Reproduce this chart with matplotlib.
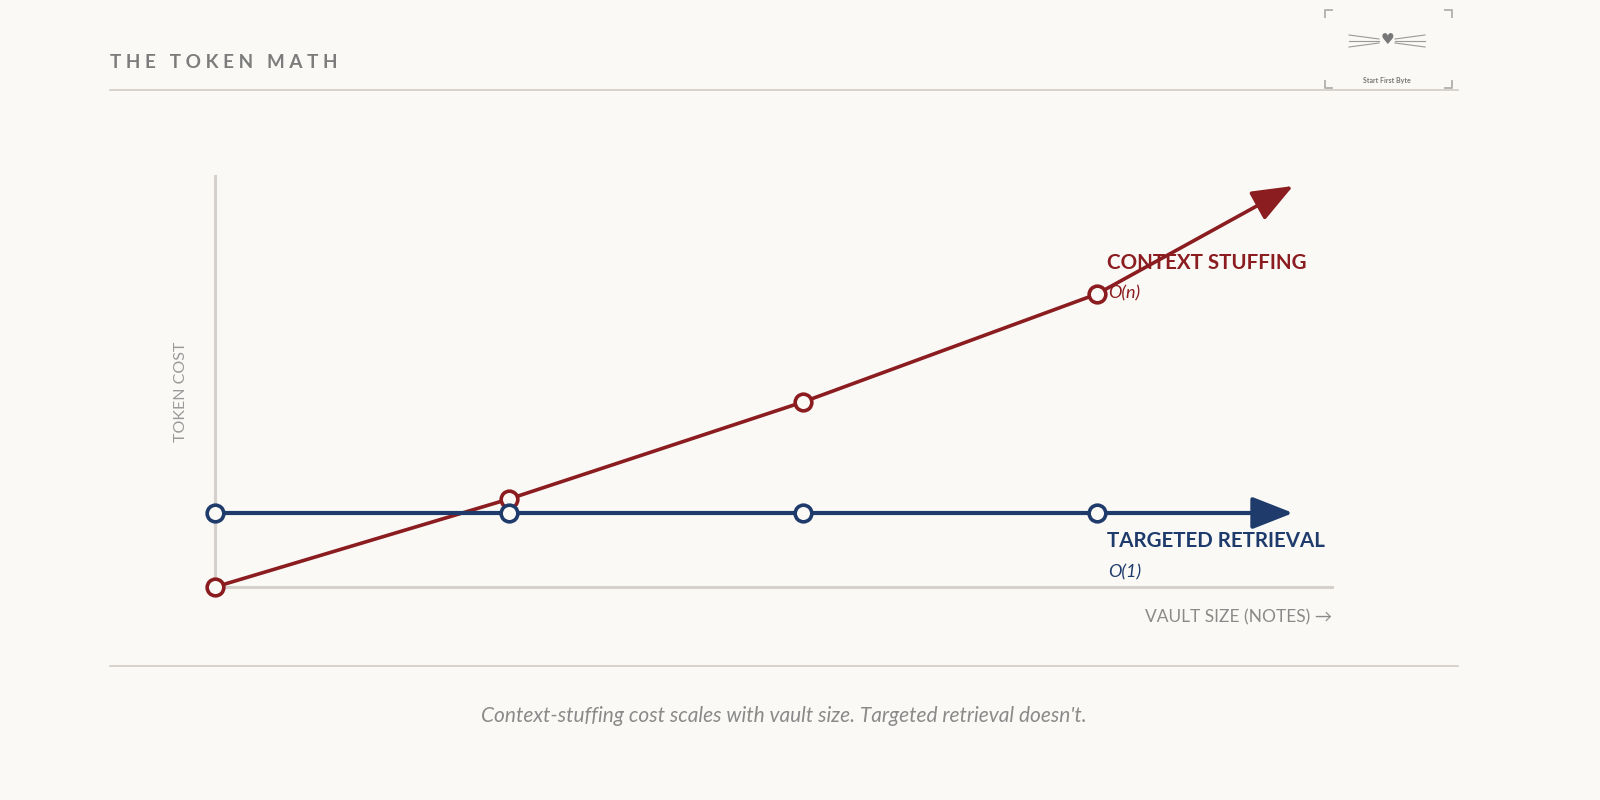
import matplotlib.pyplot as plt
from matplotlib.lines import Line2D

# -----------------------------------------------------------------------------
# Data (vault size in arbitrary units, token cost in arbitrary units)
# -----------------------------------------------------------------------------
vault_size = [0, 1, 2, 3]
stuffing_cost = [0, 8.8, 18.5, 29.3]
retrieval_cost = [7.4, 7.4, 7.4, 7.4]
arrow_x = 3.667
stuffing_arrow_y = 40.1
retrieval_arrow_y = 7.4

TITLE = "THE TOKEN MATH"
CAPTION = "Context-stuffing cost scales with vault size. Targeted retrieval doesn't."

BG = "#FAF9F6"
RED = "#8B1C1F"
BLUE = "#1F3B6B"
AXIS = "#D5D0CB"
GRAY = "#8A8A8A"
RULE = "#D3CCC6"

W, H = 1600, 800
plt.rcParams["font.family"] = ["Lato", "DejaVu Sans"]

fig = plt.figure(figsize=(W / 100, H / 100), dpi=100, facecolor=BG)


def fx(px):
    return px / W


def fy(py):
    return 1 - py / H


# axes: x=0 at px 215, one unit = 294 px ; y=0 at px 587, one unit = 10 px
left, right, top, bottom = 215, 1332, 176, 587
ax = fig.add_axes([fx(left), fy(bottom), (right - left) / W, (bottom - top) / H])
ax.set_facecolor(BG)
ax.set_xlim(0, (right - left) / 294)
ax.set_ylim(0, (bottom - top) / 10)
for s in ("top", "right"):
    ax.spines[s].set_visible(False)
for s in ("left", "bottom"):
    ax.spines[s].set_color(AXIS)
    ax.spines[s].set_linewidth(2.2)
ax.set_xticks([])
ax.set_yticks([])

head = "-|>,head_length=1.4,head_width=0.55"

# context stuffing
ax.plot(vault_size, stuffing_cost, color=RED, lw=2.6, zorder=3, clip_on=False)
ax.annotate("", xy=(arrow_x, stuffing_arrow_y), xytext=(vault_size[-1], stuffing_cost[-1]),
            arrowprops=dict(arrowstyle=head, color=RED, lw=2.6, shrinkA=0, shrinkB=0,
                            mutation_scale=18),
            zorder=3, annotation_clip=False)
ax.plot(vault_size, stuffing_cost, ls="none", marker="o", ms=12, mfc=BG, mec=RED,
        mew=2.6, zorder=4, clip_on=False)

# targeted retrieval
ax.plot(vault_size, retrieval_cost, color=BLUE, lw=3.0, zorder=5, clip_on=False)
ax.annotate("", xy=(arrow_x, retrieval_arrow_y), xytext=(vault_size[-1], retrieval_cost[-1]),
            arrowprops=dict(arrowstyle=head, color=BLUE, lw=3.0, shrinkA=0, shrinkB=0,
                            mutation_scale=18),
            zorder=5, annotation_clip=False)
ax.plot(vault_size, retrieval_cost, ls="none", marker="o", ms=12, mfc=BG, mec=BLUE,
        mew=2.6, zorder=6, clip_on=False)

# series labels
fig.text(fx(1107), fy(263), "CONTEXT STUFFING", color=RED, fontsize=14.8,
         fontweight="bold", va="center", ha="left")
fig.text(fx(1108), fy(293), "O(n)", color=RED, fontsize=13, style="italic",
         va="center", ha="left")
fig.text(fx(1107), fy(541), "TARGETED RETRIEVAL", color=BLUE, fontsize=14.8,
         fontweight="bold", va="center", ha="left")
fig.text(fx(1108), fy(572), "O(1)", color=BLUE, fontsize=13, style="italic",
         va="center", ha="left")

# axis labels
fig.text(fx(181), fy(392), "TOKEN COST", color="#9A9A9A", fontsize=11.5,
         rotation=90, va="center", ha="center")
fig.text(fx(1332), fy(617), "VAULT SIZE (NOTES) \u2192", color=GRAY, fontsize=12.5,
         va="center", ha="right")

# title and rules
spaced_title = "   ".join(" ".join(word) for word in TITLE.split(" "))
fig.text(fx(110), fy(63), spaced_title, color="#7C7C7C", fontsize=13.6,
         fontweight="bold", va="center", ha="left")
fig.add_artist(Line2D([fx(110), fx(1458)], [fy(90), fy(90)], color=RULE, lw=1.2))
fig.add_artist(Line2D([fx(110), fx(1458)], [fy(666), fy(666)], color=RULE, lw=1.2))

fig.text(fx(784), fy(716), CAPTION, color=GRAY, fontsize=15, style="italic",
         va="center", ha="center")

# logo: corner brackets, whiskers, heart
br = "#B5B5B5"
x0, x1, y0, y1, k = 1325, 1452, 10, 88, 7
for (xa, ya, dx, dy) in [(x0, y0, 1, 1), (x1, y0, -1, 1), (x0, y1, 1, -1), (x1, y1, -1, -1)]:
    fig.add_artist(Line2D([fx(xa + dx * k), fx(xa), fx(xa)],
                          [fy(ya), fy(ya), fy(ya + dy * k)], color=br, lw=1.4))
wc = "#9A9A9A"
for side in (-1, 1):
    for (yo, ye) in [(-2, -6), (0, 0), (2, 6)]:
        fig.add_artist(Line2D([fx(1387 + side * 8), fx(1387 + side * 38)],
                              [fy(41 + yo), fy(41 + ye)], color=wc, lw=0.8))
fig.text(fx(1387), fy(40), "\u2665", color="#777777", fontsize=11, ha="center",
         va="center", family="DejaVu Sans")
fig.text(fx(1387), fy(80), "Start First Byte", color="#777777", fontsize=5,
         fontweight="bold", ha="center", va="center")

fig.savefig("out.png", dpi=100, facecolor=BG)
